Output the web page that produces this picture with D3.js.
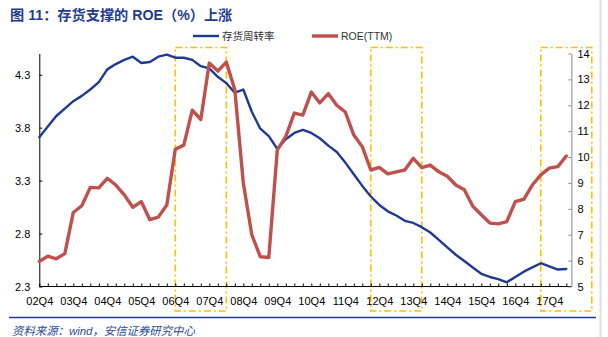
<!DOCTYPE html>
<html>
<head>
<meta charset="utf-8">
<script src="https://cdn.jsdelivr.net/npm/d3@7"></script>
<style>
  html, body { margin: 0; padding: 0; background: #fff; }
  svg { display: block; }
  text { font-family: "Liberation Sans", Arial, "Noto Sans CJK SC", sans-serif; }
</style>
</head>
<body>
<svg id="chart" width="608" height="337"></svg>
<script>
// ---------- data ----------
const quarters = [];
for (let i = 0; i < 63; i++) {
  const yr = 2 + Math.floor((i + 3) / 4);
  const q = ((i + 3) % 4) + 1;
  quarters.push(String(yr).padStart(2, "0") + "Q" + q);
}
const inventoryTurnover = [
  3.71, 3.81, 3.91, 3.98, 4.05, 4.10, 4.16, 4.23, 4.35, 4.40,
  4.44, 4.47, 4.41, 4.42, 4.47, 4.49, 4.46, 4.46, 4.44, 4.38,
  4.36, 4.28, 4.22, 4.13, 4.16, 3.95, 3.79, 3.72, 3.60, 3.69,
  3.75, 3.78, 3.75, 3.70, 3.63, 3.57, 3.47, 3.36, 3.25, 3.15,
  3.07, 3.01, 2.97, 2.92, 2.90, 2.86, 2.81, 2.74, 2.67, 2.60,
  2.54, 2.48, 2.42, 2.39, 2.37, 2.34, 2.39, 2.44, 2.48, 2.52,
  2.49, 2.46, 2.465
];
const roeTTM = [
  5.97, 6.17, 6.07, 6.27, 7.86, 8.12, 8.83, 8.81, 9.18, 8.92,
  8.54, 8.06, 8.28, 7.58, 7.68, 8.15, 10.30, 10.46, 11.81, 11.45,
  13.63, 13.32, 13.67, 12.6, 9.0, 7.0, 6.15, 6.12, 10.27, 10.8,
  11.70, 11.62, 12.51, 12.09, 12.45, 12.0, 11.74, 10.85, 10.40, 9.5,
  9.6, 9.35, 9.43, 9.5, 9.95, 9.59, 9.69, 9.43, 9.26, 8.92,
  8.74, 8.1, 7.77, 7.45, 7.42, 7.51, 8.28, 8.37, 8.92, 9.31,
  9.57, 9.63, 10.04
];
const leftTicks = [2.3, 2.8, 3.3, 3.8, 4.3];
const rightTicks = [5, 6, 7, 8, 9, 10, 11, 12, 13, 14];
const xLabels = ["02Q4","03Q4","04Q4","05Q4","06Q4","07Q4","08Q4","09Q4","10Q4","11Q4","12Q4","13Q4","14Q4","15Q4","16Q4","17Q4"];
const highlightStart = ["06Q4", "12Q3", "17Q3"];
const highlightEnd   = ["08Q2", "14Q1", "19Q1"];
const seriesNames = ["存货周转率", "ROE(TTM)"];
const titleText = "图 11：存货支撑的 ROE（%）上涨";
const sourceText = "资料来源：wind，安信证券研究中心";

// ---------- layout ----------
const svg = d3.select("#chart");
const L = 39.3, R = 571.4, T = 53.5, B = 286.5;
const qIndex = lbl => { const yy = +lbl.slice(0, 2), q = +lbl[3]; return (yy - 2) * 4 + (q - 4); };
const x = d3.scaleLinear().domain([0, 62.6]).range([L, R]);
const yL = d3.scaleLinear().domain([2.3, 4.5]).range([B, T]);
const yR = d3.scaleLinear().domain([5, 14]).range([B, T]);

const BLUE = "#1d3a94", RED = "#c0504d", ORANGE = "#ffc000";

// title
svg.append("text").attr("x", 10).attr("y", 19.5)
  .attr("fill", "#1f3c93").attr("font-size", 14.2).attr("font-weight", "bold")
  .text(titleText);

// highlight boxes
highlightStart.forEach((s, k) => {
  const x0 = x(qIndex(s)), x1 = x(qIndex(highlightEnd[k]));
  svg.append("rect").attr("x", x0).attr("y", 47.5).attr("width", x1 - x0).attr("height", 263.5)
    .attr("fill", "none").attr("stroke", ORANGE).attr("stroke-width", 1.6)
    .attr("stroke-dasharray", "7,3,2,3");
});

// axes
const xAxis = d3.axisBottom(x)
  .tickValues(d3.range(0, 63))
  .tickSize(-3).tickSizeOuter(0).tickPadding(10.5)
  .tickFormat(i => (i % 4 === 0 ? xLabels[i / 4] : ""));
const gx = svg.append("g").attr("transform", `translate(0,${B})`).call(xAxis);
gx.select(".domain").attr("d", `M${L},0H${R}`).attr("stroke", "#000");
gx.selectAll("line").attr("stroke", "#000");
gx.selectAll("text").attr("font-size", 11).attr("fill", "#000");

const gl = svg.append("g").attr("transform", `translate(${L},0)`)
  .call(d3.axisLeft(yL).tickValues(leftTicks).tickSize(-3).tickSizeOuter(0).tickPadding(9).tickFormat(d3.format(".1f")));
gl.select(".domain").attr("stroke", "#000");
gl.selectAll("line").attr("stroke", "#000");
gl.selectAll("text").attr("font-size", 11).attr("fill", "#000");

const gr = svg.append("g").attr("transform", `translate(${R},0)`)
  .call(d3.axisRight(yR).tickValues(rightTicks).tickSize(-3).tickSizeOuter(0).tickPadding(6).tickFormat(d3.format("d")));
gr.select(".domain").attr("stroke", "#888");
gr.selectAll("line").attr("stroke", "#888");
gr.selectAll("text").attr("font-size", 11).attr("fill", "#000");

// lines
const lineL = d3.line().x((d, i) => x(i)).y(d => yL(d));
const lineR = d3.line().x((d, i) => x(i)).y(d => yR(d));
svg.append("path").datum(inventoryTurnover).attr("d", lineL)
  .attr("fill", "none").attr("stroke", BLUE).attr("stroke-width", 2.4)
  .attr("stroke-linejoin", "round").attr("stroke-linecap", "round");
svg.append("path").datum(roeTTM).attr("d", lineR)
  .attr("fill", "none").attr("stroke", RED).attr("stroke-width", 3.4)
  .attr("stroke-linejoin", "round").attr("stroke-linecap", "round");

// legend
const legend = [
  { name: seriesNames[0], color: BLUE, w: 2.4, x: 193 },
  { name: seriesNames[1], color: RED, w: 3.4, x: 312 }
];
legend.forEach(l => {
  svg.append("line").attr("x1", l.x).attr("x2", l.x + 26).attr("y1", 36).attr("y2", 36)
    .attr("stroke", l.color).attr("stroke-width", l.w);
  svg.append("text").attr("x", l.x + 29).attr("y", 39.5).attr("font-size", 10.5)
    .attr("fill", "#333").text(l.name);
});

// footer rule and source
svg.append("line").attr("x1", 9).attr("x2", 596).attr("y1", 317.5).attr("y2", 317.5)
  .attr("stroke", "#1f3c8f").attr("stroke-width", 1.3);
svg.append("text").attr("x", 12).attr("y", 334.5).attr("font-size", 11.4)
  .attr("font-style", "italic").attr("fill", "#2b4a9c").text(sourceText);

// right page edge
svg.append("rect").attr("x", 599.5).attr("y", 0).attr("width", 2).attr("height", 337).attr("fill", "#e0e0e0");
</script>
</body>
</html>
